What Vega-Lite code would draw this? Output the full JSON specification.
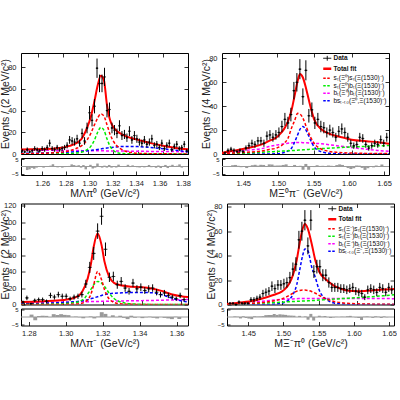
{
  "$schema": "https://vega.github.io/schema/vega-lite/v6.json",
  "background": "white",
  "padding": {"left": 0, "top": 52, "right": 0, "bottom": 5},
  "config": {
    "view": {"stroke": "black", "strokeWidth": 1},
    "axis": {
      "grid": false, "domain": false,
      "tickColor": "black", "tickWidth": 0.8, "tickSize": -4,
      "labelFont": "Liberation Sans", "labelFontSize": 7.5, "labelColor": "#222", "labelPadding": 9,
      "titleFont": "Liberation Sans", "titleFontSize": 10.5, "titleFontWeight": "normal", "titleColor": "#222"
    },
    "axisX": {"titlePadding": 1.5, "labelPadding": 8},
    "axisY": {"titlePadding": 0.5}
  },
  "datasets": {
    "d1": [
      {"x":1.247,"y":3,"e":1.7,"r":-2.5},{"x":1.249,"y":2,"e":1.4,"r":-2},{"x":1.251,"y":4,"e":2,"r":-1},{"x":1.253,"y":2,"e":1.4,"r":-1.6},
      {"x":1.255,"y":3,"e":1.7,"r":-0.8},{"x":1.257,"y":5,"e":2.2,"r":0.3},{"x":1.259,"y":4,"e":2,"r":-0.2},{"x":1.261,"y":3,"e":1.7,"r":-0.8},
      {"x":1.263,"y":5,"e":2.2,"r":0.2},{"x":1.265,"y":4,"e":2,"r":-0.3},{"x":1.267,"y":6,"e":2.4,"r":0.6},{"x":1.269,"y":10,"e":3.2,"r":1.6},
      {"x":1.271,"y":5,"e":2.2,"r":0},{"x":1.273,"y":4,"e":2,"r":-0.6},{"x":1.275,"y":6,"e":2.4,"r":0.3},{"x":1.277,"y":4,"e":2,"r":-0.8},
      {"x":1.279,"y":5,"e":2.2,"r":-0.4},{"x":1.281,"y":6,"e":2.4,"r":-0.2},{"x":1.283,"y":8,"e":2.8,"r":0.4},{"x":1.285,"y":13,"e":3.6,"r":1.5},
      {"x":1.287,"y":12,"e":3.5,"r":1},{"x":1.289,"y":11,"e":3.3,"r":0.5},{"x":1.291,"y":14,"e":3.7,"r":0.9},{"x":1.293,"y":10,"e":3.2,"r":-0.8},
      {"x":1.295,"y":19,"e":4.4,"r":1},{"x":1.297,"y":12,"e":3.5,"r":-2},{"x":1.299,"y":24,"e":4.9,"r":0},{"x":1.301,"y":38,"e":6.2,"r":1.2},
      {"x":1.303,"y":31,"e":5.6,"r":-1.4},{"x":1.305,"y":44,"e":6.6,"r":-0.8},{"x":1.307,"y":79,"e":8.9,"r":2.1},{"x":1.309,"y":65,"e":8.1,"r":-0.4},
      {"x":1.311,"y":65,"e":8.1,"r":-0.8},{"x":1.313,"y":71,"e":8.4,"r":0.6},{"x":1.315,"y":40,"e":6.3,"r":-0.8},{"x":1.317,"y":41,"e":6.4,"r":1.1},
      {"x":1.319,"y":24,"e":4.9,"r":-0.8},{"x":1.321,"y":22,"e":4.7,"r":-0.4},{"x":1.323,"y":19,"e":4.4,"r":-0.7},{"x":1.325,"y":26,"e":5.1,"r":1.3},
      {"x":1.327,"y":17,"e":4.1,"r":-0.3},{"x":1.329,"y":18,"e":4.2,"r":0.2},{"x":1.331,"y":15,"e":3.9,"r":-0.3},{"x":1.333,"y":21,"e":4.6,"r":1.2},
      {"x":1.335,"y":13,"e":3.6,"r":-0.4},{"x":1.337,"y":17,"e":4.1,"r":0.8},{"x":1.339,"y":14,"e":3.7,"r":0.2},{"x":1.341,"y":11,"e":3.3,"r":-0.5},
      {"x":1.343,"y":10,"e":3.2,"r":-0.7},{"x":1.345,"y":13,"e":3.6,"r":0.4},{"x":1.347,"y":9,"e":3,"r":-0.6},{"x":1.349,"y":11,"e":3.3,"r":0.2},
      {"x":1.351,"y":14,"e":3.7,"r":1.1},{"x":1.353,"y":8,"e":2.8,"r":-0.5},{"x":1.355,"y":9,"e":3,"r":0.1},{"x":1.357,"y":6,"e":2.4,"r":-0.9},
      {"x":1.359,"y":10,"e":3.2,"r":0.7},{"x":1.361,"y":5,"e":2.2,"r":-1.1},{"x":1.363,"y":8,"e":2.8,"r":0.4},{"x":1.365,"y":10,"e":3.2,"r":1.1},
      {"x":1.367,"y":4,"e":2,"r":-1.1},{"x":1.369,"y":7,"e":2.6,"r":0.5},{"x":1.371,"y":9,"e":3,"r":1.2},{"x":1.373,"y":5,"e":2.2,"r":0},
      {"x":1.375,"y":6,"e":2.4,"r":0.5},{"x":1.377,"y":9,"e":3,"r":1.5},{"x":1.379,"y":3,"e":1.7,"r":-0.8}
    ],
    "c1": [
      {"x":1.246,"fit":4.2,"ss":0.2,"sb":0,"bb":3.6,"bs":0.5},
      {"x":1.255,"fit":4.3,"ss":0.4,"sb":0,"bb":3.5,"bs":0.7},
      {"x":1.265,"fit":4.5,"ss":0.7,"sb":0,"bb":3.4,"bs":1.0},
      {"x":1.275,"fit":5.2,"ss":1.3,"sb":0.1,"bb":3.3,"bs":1.3},
      {"x":1.285,"fit":7.5,"ss":3,"sb":0.3,"bb":3.2,"bs":1.8},
      {"x":1.29,"fit":9.7,"ss":5,"sb":0.8,"bb":3.15,"bs":2.1},
      {"x":1.295,"fit":14.5,"ss":8,"sb":1.8,"bb":3.1,"bs":2.5},
      {"x":1.299,"fit":24,"ss":13,"sb":4,"bb":3.05,"bs":2.9},
      {"x":1.302,"fit":34,"ss":19,"sb":7,"bb":3.0,"bs":3.3},
      {"x":1.305,"fit":49,"ss":27,"sb":13,"bb":3.0,"bs":3.8},
      {"x":1.3075,"fit":63,"ss":33,"sb":20,"bb":2.95,"bs":4.2},
      {"x":1.31,"fit":72,"ss":37,"sb":24.5,"bb":2.9,"bs":4.7},
      {"x":1.3125,"fit":68,"ss":35,"sb":22,"bb":2.9,"bs":5.1},
      {"x":1.315,"fit":45,"ss":27,"sb":14,"bb":2.85,"bs":5.5},
      {"x":1.3175,"fit":31,"ss":18,"sb":7,"bb":2.8,"bs":5.9},
      {"x":1.32,"fit":25,"ss":12,"sb":3.5,"bb":2.8,"bs":6.2},
      {"x":1.3225,"fit":21.5,"ss":8,"sb":1.5,"bb":2.75,"bs":6.5},
      {"x":1.325,"fit":19.5,"ss":5.5,"sb":0.7,"bb":2.7,"bs":6.8},
      {"x":1.33,"fit":16.5,"ss":2.5,"sb":0.2,"bb":2.65,"bs":7.0},
      {"x":1.335,"fit":14.5,"ss":1.2,"sb":0.1,"bb":2.6,"bs":7.0},
      {"x":1.34,"fit":13,"ss":0.6,"sb":0,"bb":2.5,"bs":6.8},
      {"x":1.35,"fit":10,"ss":0.3,"sb":0,"bb":2.4,"bs":6.0},
      {"x":1.36,"fit":7.6,"ss":0.2,"sb":0,"bb":2.3,"bs":4.8},
      {"x":1.37,"fit":5.6,"ss":0.1,"sb":0,"bb":2.2,"bs":3.5},
      {"x":1.38,"fit":4.3,"ss":0.05,"sb":0,"bb":2.1,"bs":2.0}
    ],
    "d2": [
      {"x":1.431,"y":1,"e":1,"r":-0.2},{"x":1.435,"y":3,"e":1.7,"r":0.9},{"x":1.439,"y":4,"e":2,"r":1.1},{"x":1.443,"y":3,"e":1.7,"r":0.5},
      {"x":1.447,"y":2,"e":1.4,"r":-0.5},{"x":1.451,"y":3,"e":1.7,"r":-0.1},{"x":1.455,"y":2,"e":1.4,"r":-1.1},{"x":1.459,"y":5,"e":2.2,"r":0.4},
      {"x":1.463,"y":7,"e":2.6,"r":0.9},{"x":1.467,"y":9,"e":3,"r":1.2},{"x":1.471,"y":8,"e":2.8,"r":0.6},{"x":1.475,"y":11,"e":3.3,"r":1.2},
      {"x":1.479,"y":11,"e":3.3,"r":1.1},{"x":1.483,"y":9,"e":3,"r":0.3},{"x":1.487,"y":15,"e":3.9,"r":1.5},{"x":1.491,"y":16,"e":4,"r":1.4},
      {"x":1.495,"y":14,"e":3.7,"r":0.6},{"x":1.499,"y":16,"e":4,"r":0.7},{"x":1.503,"y":18,"e":4.2,"r":0.7},{"x":1.507,"y":23,"e":4.8,"r":1.1},
      {"x":1.511,"y":29,"e":5.4,"r":1.5},{"x":1.515,"y":26,"e":5.1,"r":0},{"x":1.519,"y":33,"e":5.7,"r":0},{"x":1.523,"y":53,"e":7.3,"r":1.1},
      {"x":1.527,"y":60,"e":7.7,"r":0.3},{"x":1.531,"y":71,"e":8.4,"r":0.5},{"x":1.535,"y":48,"e":6.9,"r":-2.3},{"x":1.539,"y":70,"e":8.4,"r":1.8},
      {"x":1.543,"y":32,"e":5.7,"r":-2.3},{"x":1.547,"y":37,"e":6.1,"r":0.2},{"x":1.551,"y":26,"e":5.1,"r":-0.4},{"x":1.555,"y":29,"e":5.4,"r":0.9},
      {"x":1.559,"y":23,"e":4.8,"r":0.4},{"x":1.563,"y":22,"e":4.7,"r":0.5},{"x":1.567,"y":18,"e":4.2,"r":0},{"x":1.571,"y":20,"e":4.5,"r":0.7},
      {"x":1.575,"y":18,"e":4.2,"r":0.5},{"x":1.579,"y":14,"e":3.7,"r":-0.3},{"x":1.583,"y":19,"e":4.4,"r":1},{"x":1.587,"y":21,"e":4.6,"r":1.5},
      {"x":1.591,"y":18,"e":4.2,"r":1.1},{"x":1.595,"y":14,"e":3.7,"r":0.3},{"x":1.599,"y":9,"e":3,"r":-1.1},{"x":1.603,"y":7,"e":2.6,"r":-1.8},
      {"x":1.607,"y":8,"e":2.8,"r":-1.2},{"x":1.611,"y":14,"e":3.7,"r":0.7},{"x":1.615,"y":13,"e":3.6,"r":0.6},{"x":1.619,"y":8,"e":2.8,"r":-1},
      {"x":1.623,"y":5,"e":2.2,"r":-2.4},{"x":1.627,"y":7,"e":2.6,"r":-1.2},{"x":1.631,"y":9,"e":3,"r":-0.3},{"x":1.635,"y":8,"e":2.8,"r":-0.6},
      {"x":1.639,"y":12,"e":3.5,"r":0.7},{"x":1.643,"y":9,"e":3,"r":0},{"x":1.647,"y":14,"e":3.7,"r":1.4}
    ],
    "c2": [
      {"x":1.427,"fit":1,"ss":0.4,"sb":0,"bb":0.7,"bs":0},
      {"x":1.44,"fit":2.5,"ss":0.8,"sb":0.3,"bb":1.5,"bs":0},
      {"x":1.46,"fit":4.8,"ss":1.5,"sb":0.8,"bb":3.2,"bs":0},
      {"x":1.48,"fit":8,"ss":2.5,"sb":1.4,"bb":4.5,"bs":0},
      {"x":1.49,"fit":11,"ss":3.8,"sb":1.8,"bb":6.2,"bs":0},
      {"x":1.5,"fit":14,"ss":5,"sb":2.1,"bb":7.5,"bs":0.2},
      {"x":1.505,"fit":17,"ss":6.5,"sb":2.3,"bb":8,"bs":0.5},
      {"x":1.51,"fit":21,"ss":9,"sb":2.5,"bb":8.6,"bs":1.2},
      {"x":1.515,"fit":27,"ss":13,"sb":2.7,"bb":9,"bs":2.5},
      {"x":1.52,"fit":37,"ss":22,"sb":2.9,"bb":9.3,"bs":5},
      {"x":1.524,"fit":49,"ss":28,"sb":3.0,"bb":9.5,"bs":10},
      {"x":1.528,"fit":61,"ss":34,"sb":3.2,"bb":9.6,"bs":16},
      {"x":1.531,"fit":67,"ss":33.5,"sb":3.3,"bb":9.6,"bs":20.5},
      {"x":1.535,"fit":64,"ss":30,"sb":3.5,"bb":9.5,"bs":23},
      {"x":1.54,"fit":53,"ss":22,"sb":3.7,"bb":9.4,"bs":19},
      {"x":1.545,"fit":40,"ss":14.5,"sb":3.9,"bb":9.2,"bs":12},
      {"x":1.55,"fit":29,"ss":9,"sb":4.1,"bb":9,"bs":6},
      {"x":1.56,"fit":20.5,"ss":4,"sb":4.5,"bb":8.5,"bs":1.8},
      {"x":1.57,"fit":17,"ss":2.2,"sb":4.9,"bb":7.8,"bs":0.6},
      {"x":1.58,"fit":15,"ss":1.4,"sb":5.2,"bb":7,"bs":0.2},
      {"x":1.59,"fit":13.5,"ss":1,"sb":5.6,"bb":6.2,"bs":0},
      {"x":1.6,"fit":12,"ss":0.8,"sb":5.9,"bb":5.4,"bs":0},
      {"x":1.62,"fit":10.7,"ss":0.5,"sb":6.4,"bb":4,"bs":0},
      {"x":1.635,"fit":9.8,"ss":0.4,"sb":6.8,"bb":3,"bs":0},
      {"x":1.65,"fit":8.6,"ss":0.3,"sb":7.1,"bb":2.2,"bs":0}
    ],
    "d3": [
      {"x":1.2795,"y":3,"e":1.7,"r":0},{"x":1.2815,"y":8,"e":2.8,"r":1.7},{"x":1.2835,"y":1,"e":1,"r":-2.3},{"x":1.2855,"y":5,"e":2.2,"r":0.7},
      {"x":1.2875,"y":6,"e":2.4,"r":0.9},{"x":1.2895,"y":6,"e":2.4,"r":0.8},{"x":1.2915,"y":4,"e":2,"r":-0.1},{"x":1.2935,"y":11,"e":3.3,"r":2},
      {"x":1.2955,"y":9,"e":3,"r":1.4},{"x":1.2975,"y":12,"e":3.5,"r":2},{"x":1.2995,"y":10,"e":3.2,"r":1.5},{"x":1.3015,"y":10,"e":3.2,"r":1.3},
      {"x":1.3035,"y":7,"e":2.6,"r":0.1},{"x":1.3055,"y":9,"e":3,"r":0.3},{"x":1.3075,"y":10,"e":3.2,"r":-0.2},{"x":1.3095,"y":12,"e":3.5,"r":-0.9},
      {"x":1.3115,"y":25,"e":5,"r":0},{"x":1.3135,"y":45,"e":6.7,"r":0.4},{"x":1.3155,"y":62,"e":7.9,"r":-1},{"x":1.3175,"y":89,"e":9.4,"r":0.3},
      {"x":1.3195,"y":107,"e":10.3,"r":3.4},{"x":1.3215,"y":67,"e":8.2,"r":2.2},{"x":1.3235,"y":33,"e":5.7,"r":-0.1},{"x":1.3255,"y":34,"e":5.8,"r":1.2},
      {"x":1.3275,"y":24,"e":4.9,"r":-0.1},{"x":1.3295,"y":28,"e":5.3,"r":0.9},{"x":1.3315,"y":20,"e":4.5,"r":-0.6},{"x":1.3335,"y":16,"e":4,"r":-1.5},
      {"x":1.3355,"y":26,"e":5.1,"r":0.9},{"x":1.3375,"y":19,"e":4.4,"r":-0.5},{"x":1.3395,"y":21,"e":4.6,"r":0},{"x":1.3415,"y":17,"e":4.1,"r":-0.8},
      {"x":1.3435,"y":19,"e":4.4,"r":-0.2},{"x":1.3455,"y":20,"e":4.5,"r":0.2},{"x":1.3475,"y":15,"e":3.9,"r":-0.5},{"x":1.3495,"y":12,"e":3.5,"r":-1},
      {"x":1.3515,"y":14,"e":3.7,"r":0},{"x":1.3535,"y":11,"e":3.3,"r":-0.6},{"x":1.3555,"y":9,"e":3,"r":-1},{"x":1.3575,"y":7,"e":2.6,"r":-1.5},
      {"x":1.3595,"y":11,"e":3.3,"r":0.2},{"x":1.3615,"y":6,"e":2.4,"r":-1.4}
    ],
    "c3": [
      {"x":1.2785,"fit":3,"ss":0,"sb":0,"bb":2.2,"bs":1},
      {"x":1.29,"fit":4,"ss":0,"sb":0.3,"bb":2.5,"bs":1.5},
      {"x":1.3,"fit":5.5,"ss":0.1,"sb":1,"bb":2.8,"bs":2.5},
      {"x":1.305,"fit":7.5,"ss":0.3,"sb":2,"bb":3,"bs":3.2},
      {"x":1.3085,"fit":12,"ss":1,"sb":4,"bb":3.2,"bs":4},
      {"x":1.311,"fit":22,"ss":3,"sb":8,"bb":3.3,"bs":5},
      {"x":1.3125,"fit":32,"ss":6,"sb":13,"bb":3.4,"bs":5.8},
      {"x":1.314,"fit":48,"ss":12,"sb":18,"bb":3.5,"bs":6.8},
      {"x":1.3155,"fit":70,"ss":24,"sb":24,"bb":3.6,"bs":8},
      {"x":1.3175,"fit":86,"ss":40,"sb":28,"bb":3.7,"bs":9.5},
      {"x":1.3195,"fit":72,"ss":30,"sb":26,"bb":3.8,"bs":11},
      {"x":1.321,"fit":52,"ss":18,"sb":22,"bb":3.9,"bs":12},
      {"x":1.3233,"fit":34,"ss":7,"sb":14,"bb":4,"bs":13},
      {"x":1.326,"fit":26,"ss":2.5,"sb":7,"bb":4.1,"bs":13.7},
      {"x":1.33,"fit":23,"ss":0.6,"sb":2.5,"bb":4.3,"bs":14.2},
      {"x":1.335,"fit":21.5,"ss":0.2,"sb":0.8,"bb":4.5,"bs":14.5},
      {"x":1.34,"fit":21,"ss":0.1,"sb":0.3,"bb":4.7,"bs":14.6},
      {"x":1.345,"fit":19.5,"ss":0,"sb":0.1,"bb":4.9,"bs":14.3},
      {"x":1.35,"fit":16.5,"ss":0,"sb":0,"bb":5.2,"bs":12},
      {"x":1.355,"fit":12.5,"ss":0,"sb":0,"bb":5.5,"bs":8},
      {"x":1.36,"fit":10,"ss":0,"sb":0,"bb":5.8,"bs":4.5},
      {"x":1.3635,"fit":9,"ss":0,"sb":0,"bb":6,"bs":3}
    ],
    "d4": [
      {"x":1.431,"y":1,"e":1,"r":0.4},{"x":1.435,"y":1,"e":1,"r":0.2},{"x":1.439,"y":0,"e":1,"r":-1},{"x":1.443,"y":2,"e":1.4,"r":0.5},
      {"x":1.447,"y":1,"e":1,"r":-0.7},{"x":1.451,"y":1,"e":1,"r":-1.1},{"x":1.455,"y":1,"e":1,"r":-1.5},{"x":1.459,"y":4,"e":2,"r":0.5},
      {"x":1.463,"y":4,"e":2,"r":0.3},{"x":1.467,"y":5,"e":2.2,"r":0.4},{"x":1.471,"y":6,"e":2.4,"r":0.6},{"x":1.475,"y":9,"e":3,"r":1.3},
      {"x":1.479,"y":10,"e":3.2,"r":1.4},{"x":1.483,"y":11,"e":3.3,"r":1.4},{"x":1.487,"y":15,"e":3.9,"r":2.1},{"x":1.491,"y":13,"e":3.6,"r":1.5},
      {"x":1.495,"y":16,"e":4,"r":1.9},{"x":1.499,"y":16,"e":4,"r":1.7},{"x":1.503,"y":17,"e":4.1,"r":1.5},{"x":1.507,"y":18,"e":4.2,"r":1.1},
      {"x":1.511,"y":22,"e":4.7,"r":1},{"x":1.515,"y":29,"e":5.4,"r":0.9},{"x":1.519,"y":33,"e":5.7,"r":0},{"x":1.523,"y":53,"e":7.3,"r":0.8},
      {"x":1.527,"y":60,"e":7.7,"r":0},{"x":1.531,"y":69,"e":8.3,"r":0.4},{"x":1.535,"y":48,"e":6.9,"r":-1.9},{"x":1.539,"y":69,"e":8.3,"r":2.2},
      {"x":1.543,"y":27,"e":5.2,"r":-2.5},{"x":1.547,"y":31,"e":5.6,"r":-0.1},{"x":1.551,"y":31,"e":5.6,"r":0.9},{"x":1.555,"y":24,"e":4.9,"r":0.3},
      {"x":1.559,"y":24,"e":4.9,"r":0.7},{"x":1.563,"y":18,"e":4.2,"r":-0.1},{"x":1.567,"y":14,"e":3.7,"r":-0.7},{"x":1.571,"y":14,"e":3.7,"r":-0.3},
      {"x":1.575,"y":14,"e":3.7,"r":0.1},{"x":1.579,"y":13,"e":3.6,"r":0},{"x":1.583,"y":13,"e":3.6,"r":0.2},{"x":1.587,"y":12,"e":3.5,"r":0.1},
      {"x":1.591,"y":13,"e":3.6,"r":0.5},{"x":1.595,"y":14,"e":3.7,"r":0.8},{"x":1.599,"y":11,"e":3.3,"r":0.1},{"x":1.603,"y":10,"e":3.2,"r":-0.3},
      {"x":1.607,"y":9,"e":3,"r":-0.7},{"x":1.611,"y":6,"e":2.4,"r":-2.1},{"x":1.615,"y":12,"e":3.5,"r":0.2},{"x":1.619,"y":13,"e":3.6,"r":0.4},
      {"x":1.623,"y":12,"e":3.5,"r":0.1},{"x":1.627,"y":10,"e":3.2,"r":-0.6},{"x":1.631,"y":14,"e":3.7,"r":0.5},{"x":1.635,"y":13,"e":3.6,"r":0.2},
      {"x":1.639,"y":10,"e":3.2,"r":-0.7},{"x":1.643,"y":14,"e":3.7,"r":0.4},{"x":1.647,"y":12,"e":3.5,"r":-0.2}
    ],
    "c4": [
      {"x":1.427,"fit":0.5,"ss":0.2,"sb":0,"bb":0.5,"bs":0},
      {"x":1.44,"fit":1.2,"ss":0.5,"sb":0.3,"bb":1.2,"bs":0},
      {"x":1.46,"fit":2.8,"ss":1,"sb":0.8,"bb":2,"bs":0},
      {"x":1.48,"fit":6,"ss":2,"sb":1.3,"bb":3,"bs":0},
      {"x":1.49,"fit":8,"ss":3,"sb":1.6,"bb":3.6,"bs":0.3},
      {"x":1.5,"fit":10.5,"ss":4.5,"sb":1.9,"bb":4.2,"bs":1},
      {"x":1.505,"fit":13,"ss":5.8,"sb":2.1,"bb":4.4,"bs":2},
      {"x":1.51,"fit":17,"ss":7.5,"sb":2.3,"bb":4.5,"bs":4},
      {"x":1.515,"fit":24,"ss":9.2,"sb":2.4,"bb":4.6,"bs":8},
      {"x":1.52,"fit":36,"ss":10.9,"sb":2.6,"bb":4.8,"bs":16},
      {"x":1.524,"fit":50,"ss":11.5,"sb":2.7,"bb":4.85,"bs":28},
      {"x":1.528,"fit":62,"ss":11.8,"sb":2.8,"bb":4.9,"bs":40},
      {"x":1.531,"fit":66,"ss":11.8,"sb":2.9,"bb":4.9,"bs":45.5},
      {"x":1.535,"fit":62,"ss":11.5,"sb":3,"bb":4.9,"bs":44},
      {"x":1.54,"fit":50,"ss":10.6,"sb":3.2,"bb":4.95,"bs":31},
      {"x":1.545,"fit":36,"ss":9.2,"sb":3.4,"bb":5,"bs":22},
      {"x":1.55,"fit":27,"ss":7.5,"sb":3.6,"bb":5,"bs":12},
      {"x":1.56,"fit":20,"ss":4.5,"sb":4,"bb":5,"bs":4},
      {"x":1.57,"fit":15.3,"ss":2.5,"sb":4.4,"bb":5,"bs":1.3},
      {"x":1.58,"fit":12.7,"ss":1.4,"sb":4.8,"bb":5,"bs":0.5},
      {"x":1.59,"fit":11.2,"ss":0.9,"sb":5.2,"bb":5,"bs":0.2},
      {"x":1.6,"fit":10.8,"ss":0.6,"sb":5.6,"bb":4.95,"bs":0},
      {"x":1.62,"fit":11.5,"ss":0.3,"sb":6.4,"bb":4.9,"bs":0},
      {"x":1.635,"fit":12.2,"ss":0.2,"sb":7.1,"bb":4.85,"bs":0},
      {"x":1.65,"fit":12.7,"ss":0.1,"sb":7.9,"bb":4.8,"bs":0}
    ]
  },
  "resolve": {"scale": {"color": "independent"}, "legend": {"color": "independent"}},
  "spacing": 1.5,
  "vconcat": [
    {
      "spacing": 10,
      "resolve": {"scale": {"color": "independent"}, "legend": {"color": "independent"}},
      "hconcat": [
        {
          "bounds": "flush",
          "spacing": 4,
          "resolve": {"scale": {"color": "independent"}, "legend": {"color": "independent"}},
          "vconcat": [
            {
              "width": 167, "height": 101,
              "encoding": {
                "x": {"field": "x", "type": "quantitative", "scale": {"domain": [1.246, 1.38], "nice": false, "zero": false}, "axis": null},
                "y": {"field": "y", "type": "quantitative", "scale": {"domain": [0, 93], "nice": false}, "axis": null}
              },
              "resolve": {"axis": {"x": "independent", "y": "independent"}},
              "layer": [
                {"data": {"name": "c1"}, "transform": [{"fold": ["bb", "bs", "sb", "ss"], "as": ["comp", "y"]}],
                 "mark": {"type": "line", "interpolate": "monotone", "strokeWidth": 1.5, "strokeDash": [3, 2], "clip": true},
                 "encoding": {
                   "x": {"field": "x", "type": "quantitative", "scale": {"domain": [1.246, 1.38], "nice": false, "zero": false},
                         "axis": {"values": [1.26, 1.28, 1.3, 1.32, 1.34, 1.36, 1.38], "labels": false, "title": null}},
                   "y": {"field": "y", "type": "quantitative", "scale": {"domain": [0, 93], "nice": false},
                         "axis": {"values": [0, 20, 40, 60, 80], "title": "Events / (2 MeV/c²)", "minExtent": 10, "maxExtent": 10}},
                   "color": {"field": "comp", "type": "nominal",
                   "scale": {"domain": ["Data", "fit", "ss", "sb", "bb", "bs"], "range": ["black", "#ff0000", "#ff0000", "#00ee00", "#ff00ff", "#0000ff"]},
                   "legend": null}}},
                {"data": {"name": "c1"}, "transform": [{"fold": ["fit"], "as": ["comp", "y"]}],
                 "mark": {"type": "line", "interpolate": "monotone", "color": "#ff0000", "strokeWidth": 2, "clip": true}},
                {"data": {"name": "d1"}, "mark": {"type": "errorbar", "ticks": false, "color": "black", "thickness": 1}, "encoding": {"yError": {"field": "e"}}},
                {"data": {"name": "d1"}, "mark": {"type": "tick", "orient": "horizontal", "size": 2.5, "thickness": 1, "color": "black"}},
                {"data": {"name": "d1"}, "mark": {"type": "circle", "size": 3, "color": "black", "opacity": 1},
                 "encoding": {
                   "x": {"field": "x", "type": "quantitative", "scale": {"domain": [1.246, 1.38], "nice": false, "zero": false},
                         "axis": {"orient": "top", "values": [1.26, 1.28, 1.3, 1.32, 1.34, 1.36, 1.38], "labels": false, "title": null, "minExtent": 0, "maxExtent": 0}},
                   "y": {"field": "y", "type": "quantitative", "scale": {"domain": [0, 93], "nice": false},
                         "axis": {"orient": "right", "values": [0, 20, 40, 60, 80], "labels": false, "title": null, "minExtent": 0, "maxExtent": 0}}}}
              ]
            },
            {
              "width": 167, "height": 17,
              "layer": [
                {"data": {"name": "d1"}, "mark": {"type": "bar", "orient": "vertical", "size": 2.5, "color": "#9a9a9a"},
                 "encoding": {
                   "x": {"field": "x", "type": "quantitative", "scale": {"domain": [1.246, 1.38], "nice": false, "zero": false},
                         "axis": {"values": [1.26, 1.28, 1.3, 1.32, 1.34, 1.36, 1.38], "format": ".2f", "title": "MΛπ⁰ (GeV/c²)"}},
                   "y": {"field": "r", "type": "quantitative", "scale": {"domain": [-6, 6], "nice": false},
                         "axis": {"values": [-5, 0, 5], "title": null, "labelFontSize": 6, "tickSize": -3, "labelPadding": 6}}}},
                {"data": {"values": [{}]}, "mark": {"type": "rule", "color": "#9a9a9a", "strokeWidth": 1}, "encoding": {"y": {"datum": 0}}}
              ]
            }
          ]
        },
        {
          "bounds": "flush",
          "spacing": 4,
          "resolve": {"scale": {"color": "independent"}, "legend": {"color": "independent"}},
          "vconcat": [
            {
              "width": 167, "height": 101,
              "encoding": {
                "x": {"field": "x", "type": "quantitative", "scale": {"domain": [1.427, 1.65], "nice": false, "zero": false}, "axis": null},
                "y": {"field": "y", "type": "quantitative", "scale": {"domain": [0, 84.5], "nice": false}, "axis": null}
              },
              "resolve": {"axis": {"x": "independent", "y": "independent"}},
              "layer": [
                {"data": {"name": "c2"}, "transform": [{"fold": ["bb", "bs", "sb", "ss"], "as": ["comp", "y"]}],
                 "mark": {"type": "line", "interpolate": "monotone", "strokeWidth": 1.5, "strokeDash": [3, 2], "clip": true},
                 "encoding": {
                   "x": {"field": "x", "type": "quantitative", "scale": {"domain": [1.427, 1.65], "nice": false, "zero": false},
                         "axis": {"values": [1.45, 1.5, 1.55, 1.6, 1.65], "labels": false, "title": null}},
                   "y": {"field": "y", "type": "quantitative", "scale": {"domain": [0, 84.5], "nice": false},
                         "axis": {"values": [0, 20, 40, 60, 80], "title": "Events / (4 MeV/c²)", "minExtent": 10, "maxExtent": 10}},
                   "color": {"field": "comp", "type": "nominal",
                   "scale": {"domain": ["Data", "fit", "ss", "sb", "bb", "bs"], "range": ["black", "#ff0000", "#ff0000", "#00ee00", "#ff00ff", "#0000ff"]},
                   "legend": {
                     "orient": "top-right", "offset": 2, "title": null, "padding": 0,
                     "symbolType": "stroke", "symbolSize": 64, "symbolStrokeWidth": 1.5,
                     "labelFont": "Liberation Sans", "labelFontSize": 6.5, "labelColor": "#111", "labelOffset": 3, "labelLimit": 0, "rowPadding": 0.5,
                     "labelExpr": "datum.value == 'Data' ? 'Data' : datum.value == 'fit' ? 'Total fit' : datum.value == 'ss' ? 'sₜ(Ξ⁰)sₜ(Ξ(1530)⁻)' : datum.value == 'sb' ? 'sₜ(Ξ⁰)bₜ(Ξ(1530)⁻)' : datum.value == 'bb' ? 'bₜ(Ξ⁰)bₜ(Ξ(1530)⁻)' : 'bsₜ₋ₜ₀(Ξ⁰,Ξ(1530)⁻)'",
                     "encode": {
                       "symbols": {"update": {
                         "strokeDash": {"signal": "datum.value == 'Data' || datum.value == 'fit' ? [1, 0] : [2.5, 1.5]"},
                         "strokeWidth": {"signal": "datum.value == 'fit' ? 2.5 : datum.value == 'Data' ? 1 : 1.5"},
                         "shape": {"signal": "datum.value == 'Data' ? 'M-1,0H1M0,-0.6V0.6' : 'stroke'"}}},
                       "labels": {"update": {"fontWeight": {"signal": "datum.value == 'Data' || datum.value == 'fit' ? 'bold' : 'normal'"}}}
                     }
                   }}}},
                {"data": {"name": "c2"}, "transform": [{"fold": ["fit"], "as": ["comp", "y"]}],
                 "mark": {"type": "line", "interpolate": "monotone", "color": "#ff0000", "strokeWidth": 2, "clip": true}},
                {"data": {"name": "d2"}, "mark": {"type": "errorbar", "ticks": false, "color": "black", "thickness": 1}, "encoding": {"yError": {"field": "e"}}},
                {"data": {"name": "d2"}, "mark": {"type": "tick", "orient": "horizontal", "size": 3, "thickness": 1, "color": "black"}},
                {"data": {"name": "d2"}, "mark": {"type": "circle", "size": 3, "color": "black", "opacity": 1},
                 "encoding": {
                   "x": {"field": "x", "type": "quantitative", "scale": {"domain": [1.427, 1.65], "nice": false, "zero": false},
                         "axis": {"orient": "top", "values": [1.45, 1.5, 1.55, 1.6, 1.65], "labels": false, "title": null, "minExtent": 0, "maxExtent": 0}},
                   "y": {"field": "y", "type": "quantitative", "scale": {"domain": [0, 84.5], "nice": false},
                         "axis": {"orient": "right", "values": [0, 20, 40, 60, 80], "labels": false, "title": null, "minExtent": 0, "maxExtent": 0}}}}
              ]
            },
            {
              "width": 167, "height": 17,
              "layer": [
                {"data": {"name": "d2"}, "mark": {"type": "bar", "orient": "vertical", "size": 3, "color": "#9a9a9a"},
                 "encoding": {
                   "x": {"field": "x", "type": "quantitative", "scale": {"domain": [1.427, 1.65], "nice": false, "zero": false},
                         "axis": {"values": [1.45, 1.5, 1.55, 1.6, 1.65], "format": ".2f", "title": "MΞ⁰π⁻ (GeV/c²)"}},
                   "y": {"field": "r", "type": "quantitative", "scale": {"domain": [-6, 6], "nice": false},
                         "axis": {"values": [-5, 0, 5], "title": null, "labelFontSize": 6, "tickSize": -3, "labelPadding": 6}}}},
                {"data": {"values": [{}]}, "mark": {"type": "rule", "color": "#9a9a9a", "strokeWidth": 1}, "encoding": {"y": {"datum": 0}}}
              ]
            }
          ]
        }
      ]
    },
    {
      "spacing": 17,
      "resolve": {"scale": {"color": "independent"}, "legend": {"color": "independent"}},
      "hconcat": [
        {
          "bounds": "flush",
          "spacing": 4,
          "resolve": {"scale": {"color": "independent"}, "legend": {"color": "independent"}},
          "vconcat": [
            {
              "width": 167, "height": 101,
              "encoding": {
                "x": {"field": "x", "type": "quantitative", "scale": {"domain": [1.2785, 1.3635], "nice": false, "zero": false}, "axis": null},
                "y": {"field": "y", "type": "quantitative", "scale": {"domain": [0, 122.5], "nice": false}, "axis": null}
              },
              "resolve": {"axis": {"x": "independent", "y": "independent"}},
              "layer": [
                {"data": {"name": "c3"}, "transform": [{"fold": ["bb", "bs", "sb", "ss"], "as": ["comp", "y"]}],
                 "mark": {"type": "line", "interpolate": "monotone", "strokeWidth": 1.5, "strokeDash": [3, 2], "clip": true},
                 "encoding": {
                   "x": {"field": "x", "type": "quantitative", "scale": {"domain": [1.2785, 1.3635], "nice": false, "zero": false},
                         "axis": {"values": [1.28, 1.3, 1.32, 1.34, 1.36], "labels": false, "title": null}},
                   "y": {"field": "y", "type": "quantitative", "scale": {"domain": [0, 122.5], "nice": false},
                         "axis": {"values": [0, 20, 40, 60, 80, 100, 120], "title": "Events / (2 MeV/c²)", "minExtent": 10, "maxExtent": 10}},
                   "color": {"field": "comp", "type": "nominal",
                   "scale": {"domain": ["Data", "fit", "ss", "sb", "bb", "bs"], "range": ["black", "#ff0000", "#ff0000", "#00ee00", "#ff00ff", "#0000ff"]},
                   "legend": null}}},
                {"data": {"name": "c3"}, "transform": [{"fold": ["fit"], "as": ["comp", "y"]}],
                 "mark": {"type": "line", "interpolate": "monotone", "color": "#ff0000", "strokeWidth": 2, "clip": true}},
                {"data": {"name": "d3"}, "mark": {"type": "errorbar", "ticks": false, "color": "black", "thickness": 1}, "encoding": {"yError": {"field": "e"}}},
                {"data": {"name": "d3"}, "mark": {"type": "tick", "orient": "horizontal", "size": 3.9, "thickness": 1, "color": "black"}},
                {"data": {"name": "d3"}, "mark": {"type": "circle", "size": 3, "color": "black", "opacity": 1},
                 "encoding": {
                   "x": {"field": "x", "type": "quantitative", "scale": {"domain": [1.2785, 1.3635], "nice": false, "zero": false},
                         "axis": {"orient": "top", "values": [1.28, 1.3, 1.32, 1.34, 1.36], "labels": false, "title": null, "minExtent": 0, "maxExtent": 0}},
                   "y": {"field": "y", "type": "quantitative", "scale": {"domain": [0, 122.5], "nice": false},
                         "axis": {"orient": "right", "values": [0, 20, 40, 60, 80, 100, 120], "labels": false, "title": null, "minExtent": 0, "maxExtent": 0}}}}
              ]
            },
            {
              "width": 167, "height": 17,
              "layer": [
                {"data": {"name": "d3"}, "mark": {"type": "bar", "orient": "vertical", "size": 3.9, "color": "#9a9a9a"},
                 "encoding": {
                   "x": {"field": "x", "type": "quantitative", "scale": {"domain": [1.2785, 1.3635], "nice": false, "zero": false},
                         "axis": {"values": [1.28, 1.3, 1.32, 1.34, 1.36], "format": ".2f", "title": "MΛπ⁻ (GeV/c²)"}},
                   "y": {"field": "r", "type": "quantitative", "scale": {"domain": [-6, 6], "nice": false},
                         "axis": {"values": [-5, 0, 5], "title": null, "labelFontSize": 6, "tickSize": -3, "labelPadding": 6}}}},
                {"data": {"values": [{}]}, "mark": {"type": "rule", "color": "#9a9a9a", "strokeWidth": 1}, "encoding": {"y": {"datum": 0}}}
              ]
            }
          ]
        },
        {
          "bounds": "flush",
          "spacing": 4,
          "resolve": {"scale": {"color": "independent"}, "legend": {"color": "independent"}},
          "vconcat": [
            {
              "width": 167, "height": 101,
              "encoding": {
                "x": {"field": "x", "type": "quantitative", "scale": {"domain": [1.427, 1.65], "nice": false, "zero": false}, "axis": null},
                "y": {"field": "y", "type": "quantitative", "scale": {"domain": [0, 82.7], "nice": false}, "axis": null}
              },
              "resolve": {"axis": {"x": "independent", "y": "independent"}},
              "layer": [
                {"data": {"name": "c4"}, "transform": [{"fold": ["bb", "bs", "sb", "ss"], "as": ["comp", "y"]}],
                 "mark": {"type": "line", "interpolate": "monotone", "strokeWidth": 1.5, "strokeDash": [3, 2], "clip": true},
                 "encoding": {
                   "x": {"field": "x", "type": "quantitative", "scale": {"domain": [1.427, 1.65], "nice": false, "zero": false},
                         "axis": {"values": [1.45, 1.5, 1.55, 1.6, 1.65], "labels": false, "title": null}},
                   "y": {"field": "y", "type": "quantitative", "scale": {"domain": [0, 82.7], "nice": false},
                         "axis": {"values": [0, 20, 40, 60, 80], "title": "Events / (4 MeV/c²)", "minExtent": 10, "maxExtent": 10}},
                   "color": {"field": "comp", "type": "nominal",
                   "scale": {"domain": ["Data", "fit", "ss", "sb", "bb", "bs"], "range": ["black", "#ff0000", "#ff0000", "#00ee00", "#ff00ff", "#0000ff"]},
                   "legend": {
                     "orient": "top-right", "offset": 2, "title": null, "padding": 0,
                     "symbolType": "stroke", "symbolSize": 64, "symbolStrokeWidth": 1.5,
                     "labelFont": "Liberation Sans", "labelFontSize": 6.5, "labelColor": "#111", "labelOffset": 3, "labelLimit": 0, "rowPadding": 0.5,
                     "labelExpr": "datum.value == 'Data' ? 'Data' : datum.value == 'fit' ? 'Total fit' : datum.value == 'ss' ? 'sₜ(Ξ⁻)sₜ(Ξ(1530)⁻)' : datum.value == 'sb' ? 'sₜ(Ξ⁻)bₜ(Ξ(1530)⁻)' : datum.value == 'bb' ? 'bₜ(Ξ⁻)bₜ(Ξ(1530)⁻)' : 'bsₜ₋ₜ₀(Ξ⁻,Ξ(1530)⁻)'",
                     "encode": {
                       "symbols": {"update": {
                         "strokeDash": {"signal": "datum.value == 'Data' || datum.value == 'fit' ? [1, 0] : [2.5, 1.5]"},
                         "strokeWidth": {"signal": "datum.value == 'fit' ? 2.5 : datum.value == 'Data' ? 1 : 1.5"},
                         "shape": {"signal": "datum.value == 'Data' ? 'M-1,0H1M0,-0.6V0.6' : 'stroke'"}}},
                       "labels": {"update": {"fontWeight": {"signal": "datum.value == 'Data' || datum.value == 'fit' ? 'bold' : 'normal'"}}}
                     }
                   }}}},
                {"data": {"name": "c4"}, "transform": [{"fold": ["fit"], "as": ["comp", "y"]}],
                 "mark": {"type": "line", "interpolate": "monotone", "color": "#ff0000", "strokeWidth": 2, "clip": true}},
                {"data": {"name": "d4"}, "mark": {"type": "errorbar", "ticks": false, "color": "black", "thickness": 1}, "encoding": {"yError": {"field": "e"}}},
                {"data": {"name": "d4"}, "mark": {"type": "tick", "orient": "horizontal", "size": 3, "thickness": 1, "color": "black"}},
                {"data": {"name": "d4"}, "mark": {"type": "circle", "size": 3, "color": "black", "opacity": 1},
                 "encoding": {
                   "x": {"field": "x", "type": "quantitative", "scale": {"domain": [1.427, 1.65], "nice": false, "zero": false},
                         "axis": {"orient": "top", "values": [1.45, 1.5, 1.55, 1.6, 1.65], "labels": false, "title": null, "minExtent": 0, "maxExtent": 0}},
                   "y": {"field": "y", "type": "quantitative", "scale": {"domain": [0, 82.7], "nice": false},
                         "axis": {"orient": "right", "values": [0, 20, 40, 60, 80], "labels": false, "title": null, "minExtent": 0, "maxExtent": 0}}}}
              ]
            },
            {
              "width": 167, "height": 17,
              "layer": [
                {"data": {"name": "d4"}, "mark": {"type": "bar", "orient": "vertical", "size": 3, "color": "#9a9a9a"},
                 "encoding": {
                   "x": {"field": "x", "type": "quantitative", "scale": {"domain": [1.427, 1.65], "nice": false, "zero": false},
                         "axis": {"values": [1.45, 1.5, 1.55, 1.6, 1.65], "format": ".2f", "title": "MΞ⁻π⁰ (GeV/c²)"}},
                   "y": {"field": "r", "type": "quantitative", "scale": {"domain": [-6, 6], "nice": false},
                         "axis": {"values": [-5, 0, 5], "title": null, "labelFontSize": 6, "tickSize": -3, "labelPadding": 6}}}},
                {"data": {"values": [{}]}, "mark": {"type": "rule", "color": "#9a9a9a", "strokeWidth": 1}, "encoding": {"y": {"datum": 0}}}
              ]
            }
          ]
        }
      ]
    }
  ]
}
